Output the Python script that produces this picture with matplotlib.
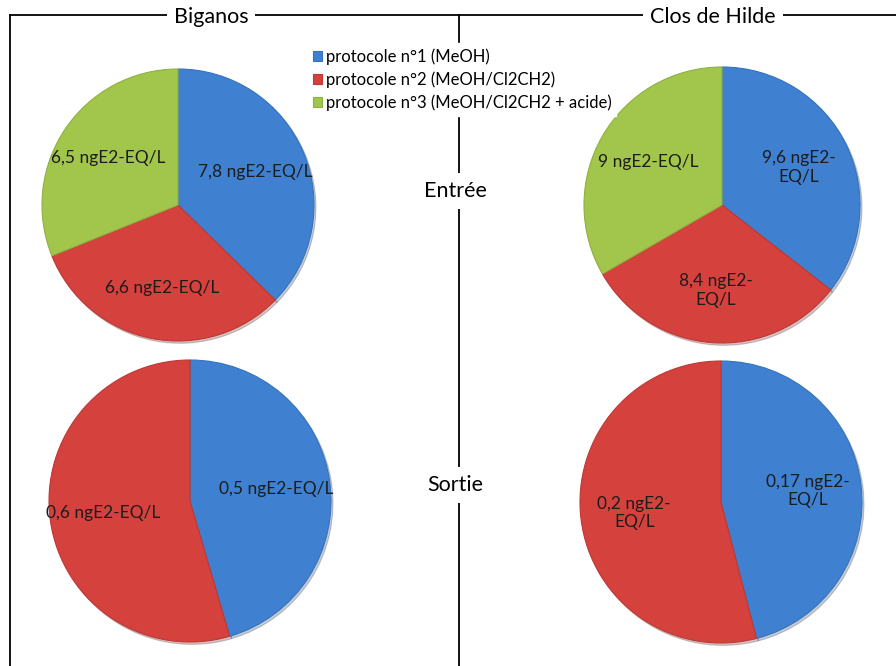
import matplotlib
matplotlib.use("Agg")
import matplotlib.pyplot as plt
from matplotlib.lines import Line2D

plt.rcParams["font.family"] = ["Lato", "DejaVu Sans"]

# data
sites = ["Biganos", "Clos de Hilde"]
stages = ["Entrée", "Sortie"]
protocols = ["protocole n°1 (MeOH)",
             "protocole n°2 (MeOH/Cl2CH2)",
             "protocole n°3 (MeOH/Cl2CH2 + acide)"]
biganos_entree = [7.8, 6.6, 6.5]
biganos_sortie = [0.5, 0.6]
hilde_entree = [9.6, 8.4, 9]
hilde_sortie = [0.17, 0.2]
unit = "ngE2-EQ/L"

colors = ["#3F81D0", "#D5413D", "#A2C64B"]
edges = ["#3572BD", "#BE3835", "#8FB140"]

W, H = 896, 666
fig = plt.figure(figsize=(W / 100, H / 100), dpi=100)


def px(x, y):
    return x / W, 1 - y / H


def fmt(v, wrap):
    s = f"{v:g}".replace(".", ",") + " " + unit
    return s.replace("-", "-\n", 1) if wrap else s


# pie placement in pixels: (cx, cy, r, values, which labels wrap)
panels = [
    (178, 205, 136, biganos_entree, [False, False, False]),
    (722, 205, 138, hilde_entree, [True, True, False]),
    (190, 501, 141, biganos_sortie, [False, False]),
    (721, 502, 141, hilde_sortie, [True, True]),
]

legend_handles = None
for cx, cy, r, vals, wraps in panels:
    ax = fig.add_axes([(cx - r) / W, (H - cy - r) / H, 2 * r / W, 2 * r / H])
    labels = [fmt(v, w) for v, w in zip(vals, wraps)]
    wedges, texts = ax.pie(vals, colors=colors[:len(vals)], startangle=90,
                           counterclock=False, labels=labels,
                           labeldistance=0.62, radius=1.0,
                           wedgeprops=dict(linewidth=0.8),
                           shadow=dict(ox=0.01, oy=-0.012, shade=0.6,
                                       alpha=0.25),
                           textprops=dict(fontsize=12.5, color="#1c1c1c",
                                          ha="center", va="center"))
    for w, ec in zip(wedges, edges):
        w.set_edgecolor(ec)
    for t in texts:
        t.set_horizontalalignment("center")
        t.set_multialignment("center")
    ax.set_xlim(-1, 1)
    ax.set_ylim(-1, 1)
    ax.set_aspect("equal")
    ax.axis("off")
    if legend_handles is None:
        legend_handles = wedges

# frame lines
lw = 1.3
for xs, ys in [((10, 896), (15, 15)),
               ((10, 10), (15, 666)),
               ((459, 459), (15, 666))]:
    (x0, y0), (x1, y1) = px(xs[0], ys[0]), px(xs[1], ys[1])
    fig.add_artist(Line2D([x0, x1], [y0, y1], color="black", lw=lw,
                          zorder=1))

# site titles
for name, x in zip(sites, [211, 713]):
    fig.text(*px(x, 17), name, fontsize=15.5, ha="center", va="center",
             zorder=3,
             bbox=dict(facecolor="white", edgecolor="none", pad=5))

# stage labels on the middle line
for name, y in zip(stages, [191, 485]):
    fig.text(*px(455, y), name, fontsize=15.5, ha="center", va="center",
             zorder=3,
             bbox=dict(facecolor="white", edgecolor="none", pad=6))

leg = fig.legend(legend_handles, protocols, loc="upper left",
                 bbox_to_anchor=px(308, 43), fontsize=12,
                 frameon=True, framealpha=1, edgecolor="white",
                 fancybox=False, handlelength=0.55, handleheight=0.55,
                 handletextpad=0.2, labelspacing=0.4, borderpad=0.3,
                 borderaxespad=0)
leg.set_zorder(4)

fig.savefig("out.png", dpi=100)
